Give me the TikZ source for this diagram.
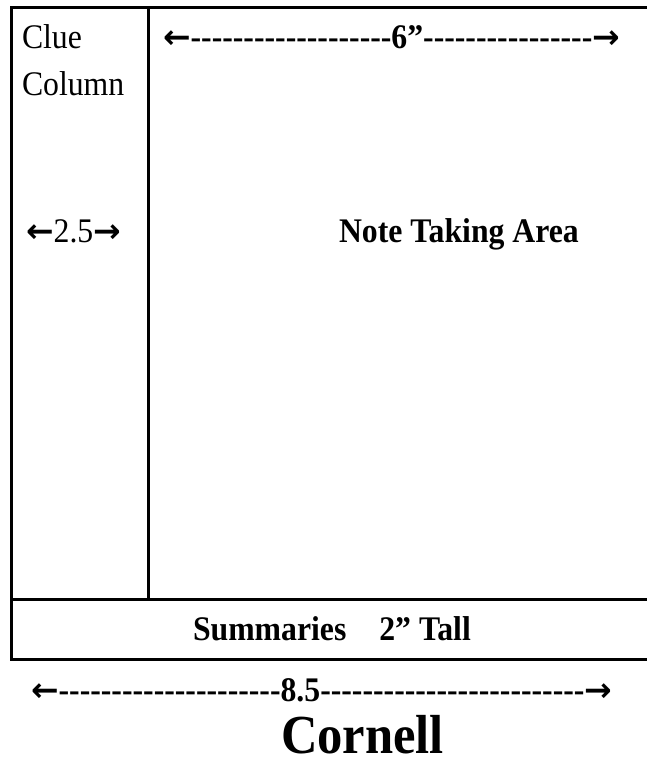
\documentclass[tikz,border=0pt]{standalone}
\usepackage{fontspec}
\setmainfont{Liberation Serif}[FakeStretch=0.92]
\newfontfamily\arrowfont{DejaVu Sans}
\newcommand\hyrun[1]{\foreach \k in {1,...,#1}{-\kern0pt}}
\newcommand\larr{{\arrowfont\bfseries\fontsize{33}{36}\selectfont ←}}
\newcommand\rarr{{\arrowfont\bfseries\fontsize{33}{36}\selectfont →}}
\tikzset{
  frame/.style={line width=3pt, line cap=rect},
  txt/.style={anchor=base west, inner sep=0pt, outer sep=0pt, text depth=0pt, font=\fontsize{34.5}{40}\selectfont},
  btxt/.style={txt, font=\fontsize{34.5}{40}\selectfont\bfseries},
  bigtxt/.style={txt, font=\fontsize{55}{60}\selectfont\bfseries}
}
\begin{document}
\begin{tikzpicture}[x=1pt, y=-1pt]
\useasboundingbox (0,0) rectangle (647,761);
\coordinate (tr) at (647,7);
\coordinate (tl) at (11,7);
\coordinate (bl) at (11,659);
\coordinate (br) at (647,659);
\coordinate (sl) at (11,599);
\coordinate (sr) at (647,599);
\coordinate (ct) at (148,7);
\coordinate (cb) at (148,599);
\draw[frame] (tr) -- (tl) -- (bl) -- (br);
\draw[frame] (sl) -- (sr);
\draw[frame] (ct) -- (cb);
\node[txt] (clue) at (22,48) {Clue};
\node[txt] (column) at (22,95) {Column};
\node[txt] (clw) at (26,242) {\larr2.5\rarr};
\node[btxt] (six) at (163,48) {\larr\hyrun{19}6”\hyrun{16}\rarr};
\node[btxt] (note) at (339,242) {Note Taking Area};
\node[btxt] (summ) at (193,640) {Summaries\hspace{33pt}2” Tall};
\node[btxt] (width) at (31,701) {\larr\hyrun{21}8.5\hyrun{25}\rarr};
\node[bigtxt] (cornell) at (281,753) {Cornell};
\end{tikzpicture}
\end{document}
